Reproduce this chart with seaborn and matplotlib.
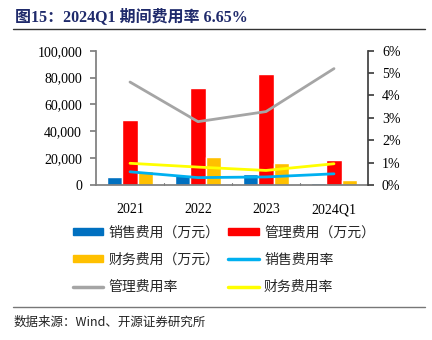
import matplotlib
matplotlib.use("Agg")
import matplotlib.pyplot as plt
import seaborn as sns
import pandas as pd
from matplotlib.patches import Patch
from matplotlib.lines import Line2D
from matplotlib.ticker import FuncFormatter

sns.set_theme(style="white")
plt.rcParams['font.family'] = ['Liberation Serif', 'Noto Sans CJK SC', 'DejaVu Sans']

categories = ["2021", "2022", "2023", "2024Q1"]
sales_exp = [6000, 7500, 8000, 1700]
admin_exp = [48500, 72500, 82500, 18500]
fin_exp = [10200, 20500, 16500, 3500]
sales_rate = [0.59, 0.33, 0.36, 0.50]
admin_rate = [4.60, 2.83, 3.28, 5.20]
fin_rate = [0.97, 0.80, 0.65, 0.95]

bar_names = ["销售费用（万元）", "管理费用（万元）", "财务费用（万元）"]
line_names = ["销售费用率", "管理费用率", "财务费用率"]
bar_colors = ["#0070C0", "#FF0000", "#FFC000"]
line_colors = ["#00B0F0", "#A5A5A5", "#FFFF00"]
left_ticks = [0, 20000, 40000, 60000, 80000, 100000]
right_ticks = [0, 1, 2, 3, 4, 5, 6]

bars = pd.DataFrame({
    "cat": categories * 3,
    "val": sales_exp + admin_exp + fin_exp,
    "series": [bar_names[0]] * 4 + [bar_names[1]] * 4 + [bar_names[2]] * 4,
})
lines = pd.DataFrame({
    "cat": categories * 3,
    "val": sales_rate + admin_rate + fin_rate,
    "series": [line_names[0]] * 4 + [line_names[1]] * 4 + [line_names[2]] * 4,
})

fig = plt.figure(figsize=(4.32, 3.40), dpi=100)
ax = fig.add_axes([96/432, 1 - 185/340, (368-96)/432, (185-50.7)/340])

sns.barplot(data=bars, x="cat", y="val", hue="series", palette=bar_colors,
            width=0.69, gap=0, ax=ax, legend=False, saturation=1)
ax.set_ylim(0, 100000)
ax.set_xlim(-0.5, 3.5)
ax.set_yticks(left_ticks)
ax.yaxis.set_major_formatter(FuncFormatter(lambda v, p: f"{int(v):,}"))
ax.set_xlabel("")
ax.set_ylabel("")

ax2 = ax.twinx()
sns.lineplot(data=lines, x="cat", y="val", hue="series", palette=line_colors,
             ax=ax2, legend=False, linewidth=2)
ax2.set_ylim(0, 6)
ax2.set_xlim(-0.5, 3.5)
ax2.set_yticks(right_ticks)
ax2.yaxis.set_major_formatter(FuncFormatter(lambda v, p: f"{int(round(v))}%"))
ax2.set_ylabel("")
ax2.set_xlabel("")

ax.spines["top"].set_visible(False)
ax2.spines["top"].set_visible(False)
ax.spines["right"].set_visible(False)
ax2.spines["left"].set_visible(False)
ax2.spines["bottom"].set_visible(False)
ax.spines["left"].set_color("#7F7F7F")
ax.spines["bottom"].set_color("#7F7F7F")
ax2.spines["right"].set_color("#404040")

ax.tick_params(axis="y", left=True, direction="out", length=4, color="#7F7F7F",
               labelsize=10, pad=6)
ax2.tick_params(axis="y", right=True, direction="out", length=4, color="#404040",
                labelsize=10, pad=6)
ax.set_xticks(range(4))
ax.set_xticklabels(categories)
ax.tick_params(axis="x", bottom=False, labelsize=10, pad=7)
for xb in [0.5, 1.5, 2.5]:
    ax.plot([xb, xb], [0, 1200], color="#7F7F7F", lw=0.8, clip_on=False)
for lab in ax.get_xticklabels() + ax.get_yticklabels() + ax2.get_yticklabels():
    lab.set_color("black")

# title
fig.text(15/432, 1 - 17/340, "图15：2024Q1 期间费用率 6.65%", fontsize=11.5,
         fontweight="bold", color="#1F2A6B", va="center", ha="left",
         family=['Liberation Serif', 'Noto Sans CJK SC'])
fig.add_artist(Line2D([13/432, 425/432], [1 - 29/340] * 2, color="#333333", lw=1))
fig.add_artist(Line2D([13/432, 425/432], [1 - 307/340] * 2, color="#777777", lw=1))
fig.text(14/432, 1 - 322/340, "数据来源：Wind、开源证券研究所", fontsize=9,
         va="center", ha="left", color="#222222",
         family=['Noto Sans CJK SC', 'Liberation Serif'])

h_bar = [Patch(color=c, label=n) for c, n in zip(bar_colors, bar_names)]
h_line = [Line2D([], [], color=c, lw=2.5, label=n) for c, n in zip(line_colors, line_names)]
# row-major ordering in a 2-column, column-filled legend
handles = [h_bar[0], h_bar[2], h_line[1], h_bar[1], h_line[0], h_line[2]]
leg = fig.legend(handles=handles, loc="upper left", bbox_to_anchor=(60/432, 1 - 213/340),
                 ncol=2, frameon=False, handlelength=2.2, handleheight=0.45,
                 handletextpad=0.4, columnspacing=0.6, labelspacing=0.95,
                 prop={'family': ['Noto Sans CJK SC'], 'size': 10})

fig.savefig("out.png", dpi=100)
